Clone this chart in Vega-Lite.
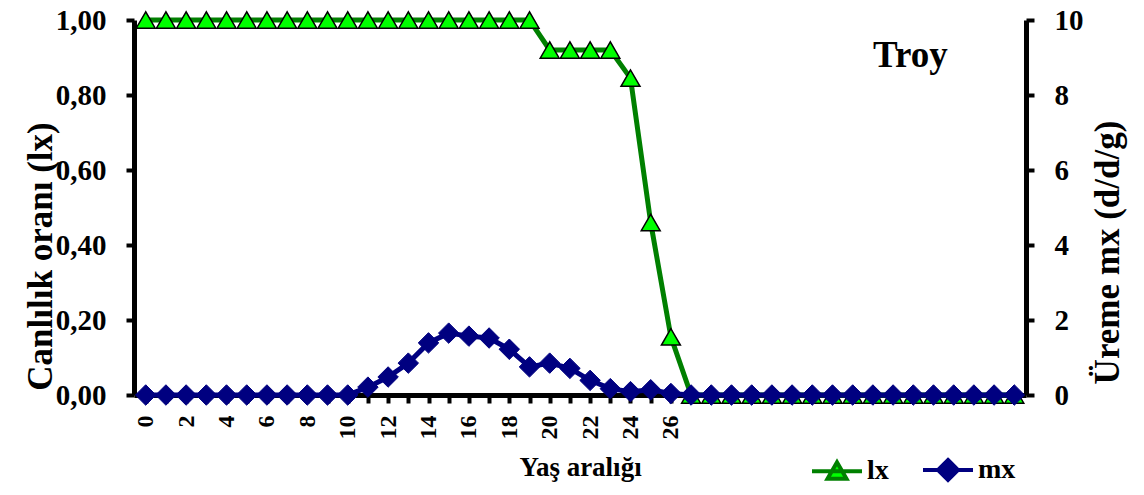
{
  "$schema": "https://vega.github.io/schema/vega-lite/v6.json",
  "width": 892,
  "height": 375,
  "autosize": "none",
  "padding": {"left": 134, "top": 20, "right": 118, "bottom": 100},
  "background": "white",
  "config": {
    "view": {"stroke": null},
    "font": "Liberation Serif",
    "axis": {
      "grid": false,
      "domainColor": "black",
      "domainWidth": 5,
      "tickColor": "black",
      "tickWidth": 4,
      "tickSize": 8,
      "labelFont": "Liberation Serif",
      "labelFontWeight": "bold",
      "labelColor": "black",
      "titleFont": "Liberation Serif",
      "titleFontWeight": "bold",
      "titleColor": "black"
    },
    "legend": {
      "title": null,
      "orient": "none",
      "legendX": 676,
      "legendY": 423,
      "direction": "horizontal",
      "symbolSize": 2500,
      "symbolStrokeWidth": 4,
      "labelFont": "Liberation Serif",
      "labelFontWeight": "bold",
      "labelFontSize": 28,
      "labelColor": "black",
      "labelOffset": 3,
      "columnPadding": 26
    }
  },
  "data": {
    "values": [
      {"age": 0, "lx": 1, "mx": 0},
      {"age": 1, "lx": 1, "mx": 0},
      {"age": 2, "lx": 1, "mx": 0},
      {"age": 3, "lx": 1, "mx": 0},
      {"age": 4, "lx": 1, "mx": 0},
      {"age": 5, "lx": 1, "mx": 0},
      {"age": 6, "lx": 1, "mx": 0},
      {"age": 7, "lx": 1, "mx": 0},
      {"age": 8, "lx": 1, "mx": 0},
      {"age": 9, "lx": 1, "mx": 0},
      {"age": 10, "lx": 1, "mx": 0},
      {"age": 11, "lx": 1, "mx": 0.21},
      {"age": 12, "lx": 1, "mx": 0.48},
      {"age": 13, "lx": 1, "mx": 0.85},
      {"age": 14, "lx": 1, "mx": 1.39},
      {"age": 15, "lx": 1, "mx": 1.65},
      {"age": 16, "lx": 1, "mx": 1.57},
      {"age": 17, "lx": 1, "mx": 1.52},
      {"age": 18, "lx": 1, "mx": 1.22},
      {"age": 19, "lx": 1, "mx": 0.75},
      {"age": 20, "lx": 0.92, "mx": 0.85},
      {"age": 21, "lx": 0.92, "mx": 0.71},
      {"age": 22, "lx": 0.92, "mx": 0.39},
      {"age": 23, "lx": 0.92, "mx": 0.17},
      {"age": 24, "lx": 0.845, "mx": 0.09},
      {"age": 25, "lx": 0.46, "mx": 0.14},
      {"age": 26, "lx": 0.155, "mx": 0.04},
      {"age": 27, "lx": 0, "mx": 0},
      {"age": 28, "lx": 0, "mx": 0},
      {"age": 29, "lx": 0, "mx": 0},
      {"age": 30, "lx": 0, "mx": 0},
      {"age": 31, "lx": 0, "mx": 0},
      {"age": 32, "lx": 0, "mx": 0},
      {"age": 33, "lx": 0, "mx": 0},
      {"age": 34, "lx": 0, "mx": 0},
      {"age": 35, "lx": 0, "mx": 0},
      {"age": 36, "lx": 0, "mx": 0},
      {"age": 37, "lx": 0, "mx": 0},
      {"age": 38, "lx": 0, "mx": 0},
      {"age": 39, "lx": 0, "mx": 0},
      {"age": 40, "lx": 0, "mx": 0},
      {"age": 41, "lx": 0, "mx": 0},
      {"age": 42, "lx": 0, "mx": 0},
      {"age": 43, "lx": 0, "mx": 0}
    ]
  },
  "encoding": {
    "x": {
      "field": "age",
      "type": "ordinal",
      "sort": null,
      "scale": {"type": "point", "padding": 0.58},
      "axis": {
        "title": "Yaş aralığı",
        "titleFontSize": 27,
        "titlePadding": 15,
        "labelAngle": 270,
        "labelFontSize": 24,
        "labelPadding": 12,
        "labelExpr": "datum.value % 2 == 0 && datum.value <= 26 ? datum.label : ''"
      }
    }
  },
  "layer": [
    {
      "encoding": {
        "y": {
          "field": "lx",
          "type": "quantitative",
          "scale": {"domain": [0, 1], "nice": false, "zero": true},
          "axis": {
            "orient": "left",
            "title": "Canlılık oranı (lx)",
            "titleFontSize": 35,
            "titlePadding": -3,
            "titleY": 236,
            "values": [0, 0.2, 0.4, 0.6, 0.8, 1],
            "format": ".2f",
            "labelExpr": "replace(datum.label, '.', ',')",
            "labelFontSize": 29,
            "labelPadding": 20
          }
        }
      },
      "layer": [
        {
          "mark": {"type": "line", "strokeWidth": 5, "clip": false},
          "encoding": {
            "stroke": {
              "datum": "lx",
              "type": "nominal",
              "scale": {"domain": ["lx", "mx"], "range": ["#008000", "#000080"]}
            }
          }
        },
        {
          "mark": {"type": "point", "shape": "triangle-up", "size": 360, "filled": true, "fill": "#00FF00", "stroke": "black", "strokeWidth": 1.5, "opacity": 1}
        },
        {
          "transform": [{"filter": "datum.age == 38"}],
          "mark": {"type": "text", "font": "Liberation Serif", "fontWeight": "bold", "fontSize": 37, "color": "black", "align": "center", "baseline": "middle", "dx": -3, "dy": -2},
          "encoding": {
            "y": {"datum": 0.9, "type": "quantitative"},
            "text": {"value": "Troy"}
          }
        }
      ]
    },
    {
      "encoding": {
        "y": {
          "field": "mx",
          "type": "quantitative",
          "scale": {"domain": [0, 10], "nice": false},
          "axis": {
            "orient": "right",
            "title": "Üreme mx (d/d/g)",
            "titleFontSize": 35,
            "titleAngle": 270,
            "titlePadding": 42,
            "titleY": 232,
            "values": [0, 2, 4, 6, 8, 10],
            "labelFontSize": 29,
            "labelPadding": 20
          }
        }
      },
      "layer": [
        {
          "mark": {"type": "line", "strokeWidth": 5, "clip": false},
          "encoding": {"stroke": {"datum": "mx", "type": "nominal"}}
        },
        {
          "mark": {"type": "point", "shape": "diamond", "size": 420, "filled": true, "fill": "#000080", "stroke": "#000080", "strokeWidth": 1, "opacity": 1}
        },
        {
          "transform": [{"filter": "false"}],
          "mark": {"type": "point", "filled": true, "opacity": 1},
          "encoding": {
            "stroke": {"field": "series", "type": "nominal"},
            "fill": {
              "field": "series",
              "type": "nominal",
              "scale": {"domain": ["lx", "mx"], "range": ["#00FF00", "#000080"]}
            },
            "shape": {
              "field": "series",
              "type": "nominal",
              "scale": {"domain": ["lx", "mx"], "range": ["M-1,0L1,0M0,-0.36L0.38,0.3L-0.38,0.3Z", "M-1,0L1,0M0,-0.4L0.4,0L0,0.4L-0.4,0Z"]}
            }
          }
        }
      ]
    }
  ],
  "resolve": {"scale": {"y": "independent"}}
}
